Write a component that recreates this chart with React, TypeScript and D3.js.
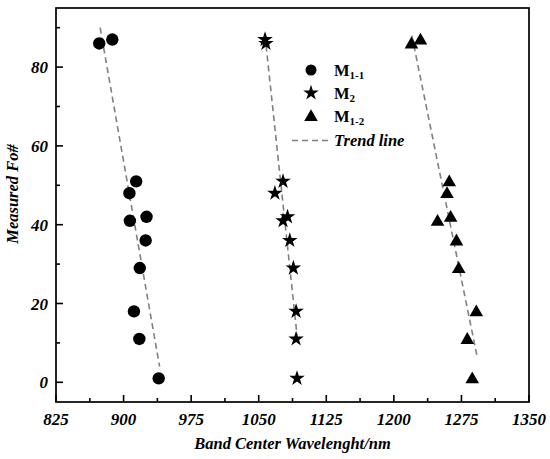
import React from "react";
import * as d3 from "d3";

const m11X = [873, 887.5, 914, 906.5, 907, 925.5, 924.5, 918, 911.5, 917.5, 939];
const m11Y = [86, 87, 51, 48, 41, 42, 36, 29, 18, 11, 1];
const m2X = [1057, 1058, 1077, 1068, 1082, 1077, 1084.5, 1088.5, 1091.5, 1091.5, 1092.5];
const m2Y = [87, 86, 51, 48, 42, 41, 36, 29, 18, 11, 1];
const m12X = [1219.5, 1229.5, 1261.5, 1259, 1248.5, 1263, 1269.5, 1272, 1291.5, 1281.5, 1287];
const m12Y = [86, 87, 51, 48, 41, 42, 36, 29, 18, 11, 1];

const trend11 = [[874, 90], [940, 4]];
const trend2 = [[1057, 88], [1092.5, 12]];
const trend12 = [[1220, 88], [1292, 7]];

const xTicks = [825, 900, 975, 1050, 1125, 1200, 1275, 1350];
const yTicks = [0, 20, 40, 60, 80];

const W = 550, H = 459;
const L = 56, R = 529, T = 8, B = 402;

export default function App() {
  const x = d3.scaleLinear().domain([825, 1350]).range([L, R]);
  const y = d3.scaleLinear().domain([-5, 95]).range([B, T]);
  const xMinor = d3.range(825 + 37.5, 1350, 75);
  const yMinor = d3.range(10, 95, 20);
  const line = d3.line<number[]>().x(d => x(d[0])).y(d => y(d[1]));
  const star = d3.symbol().type(d3.symbolStar).size(75)();
  const tri = d3.symbol().type(d3.symbolTriangle).size(80)();
  const font = "'Liberation Serif', 'Times New Roman', serif";
  const trendStyle = { fill: "none", stroke: "#808080", strokeWidth: 1.6, strokeDasharray: "6 4" };

  return (
    <svg width={W} height={H} style={{ position: "absolute", left: 0, top: 0, background: "#fff" }} fontFamily={font}>
      {[trend11, trend2, trend12].map((t, i) => (
        <path key={i} d={line(t) as string} style={trendStyle} />
      ))}
      {m11X.map((v, i) => (
        <circle key={"c" + i} cx={x(v)} cy={y(m11Y[i])} r={6.2} fill="#000" />
      ))}
      {m2X.map((v, i) => (
        <path key={"s" + i} d={star as string} transform={`translate(${x(v)},${y(m2Y[i])})`} fill="#000" />
      ))}
      {m12X.map((v, i) => (
        <path key={"t" + i} d={tri as string} transform={`translate(${x(v)},${y(m12Y[i]) + 1})`} fill="#000" />
      ))}
      <rect x={L} y={T} width={R - L} height={B - T} fill="none" stroke="#000" strokeWidth={1.7} />
      {xTicks.map(t => (
        <g key={"xt" + t}>
          <line x1={x(t)} x2={x(t)} y1={B} y2={B - 7} stroke="#000" strokeWidth={1.6} />
          <text x={x(t)} y={B + 23} textAnchor="middle" fontSize={17} fontWeight="bold" fontStyle="italic">{t}</text>
        </g>
      ))}
      {xMinor.map(t => (
        <line key={"xm" + t} x1={x(t)} x2={x(t)} y1={B} y2={B - 4} stroke="#000" strokeWidth={1.6} />
      ))}
      {yTicks.map(t => (
        <g key={"yt" + t}>
          <line x1={L} x2={L + 7} y1={y(t)} y2={y(t)} stroke="#000" strokeWidth={1.6} />
          <text x={L - 8} y={y(t) + 6} textAnchor="end" fontSize={17} fontWeight="bold" fontStyle="italic">{t}</text>
        </g>
      ))}
      {yMinor.map(t => (
        <line key={"ym" + t} x1={L} x2={L + 4} y1={y(t)} y2={y(t)} stroke="#000" strokeWidth={1.6} />
      ))}
      <text x={292.5} y={449} textAnchor="middle" fontSize={16.5} fontWeight="bold" fontStyle="italic">Band Center Wavelenght/nm</text>
      <text transform="translate(18,194) rotate(-90)" textAnchor="middle" fontSize={16.5} fontWeight="bold" fontStyle="italic">Measured Fo#</text>
      <g fontWeight="bold" fontSize={16.5}>
        <circle cx={311} cy={70} r={5.5} fill="#000" />
        <text x={334} y={76}>M<tspan fontSize={11} dy={3}>1-1</tspan></text>
        <path d={star as string} transform="translate(311,93)" fill="#000" />
        <text x={334} y={99}>M<tspan fontSize={11} dy={3}>2</tspan></text>
        <path d={tri as string} transform="translate(311,117)" fill="#000" />
        <text x={334} y={122}>M<tspan fontSize={11} dy={3}>1-2</tspan></text>
        <line x1={292} x2={330} y1={140.5} y2={140.5} style={trendStyle} />
        <text x={334} y={146} fontStyle="italic">Trend line</text>
      </g>
    </svg>
  );
}
